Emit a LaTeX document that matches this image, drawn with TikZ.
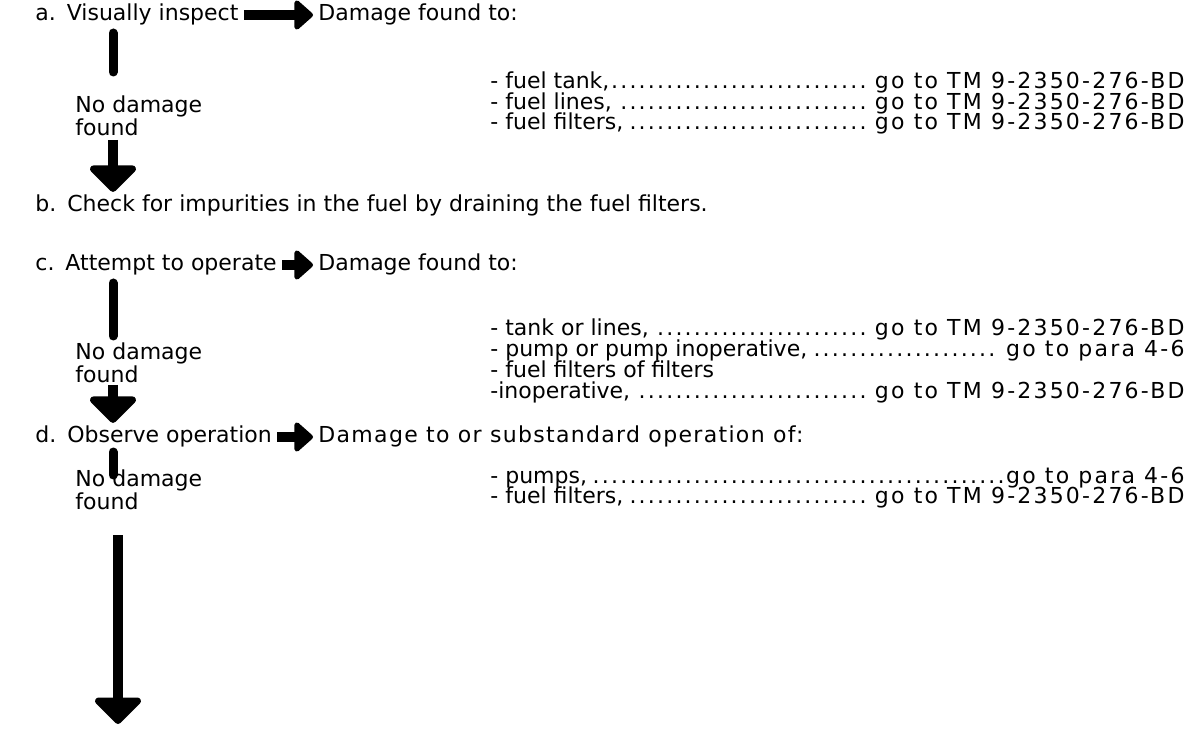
\documentclass[tikz,border=0pt]{standalone}
\usepackage{fontspec}
\setmainfont{DejaVu Sans}
\newfontfamily\goalfont{DejaVu Sans}[LetterSpace=10]
\newfontfamily\widefont{DejaVu Sans}[LetterSpace=6]
\usetikzlibrary{arrows.meta}
\newcommand{\dotlead}{\leaders\hbox to 4.6pt{\hss.\hss}\hfill}
\newcommand{\golist}[3]{\makebox[347pt][l]{#1\dotlead#2{\goalfont#3}}}
\begin{document}
\begin{tikzpicture}[x=0.5pt, y=-0.5pt, line join=round, font=\fontsize{11}{10}\selectfont,
    txt/.style={anchor=west, inner sep=0pt, text height=8.3pt, text depth=2.4pt},
    nodmg/.style={anchor=north west, inner sep=0pt, align=left},
    goarrow/.style={line width=5pt, shorten <=2.5pt, shorten >=2.5pt, -{Triangle[width=17pt,length=10pt,round]}},
    downarrow/.style={line width=5pt, shorten >=1.5pt, -{Triangle[width=27pt,length=14pt,round]}},
    stem/.style={line width=4.5pt, line cap=round}]
    \useasboundingbox (0,0) rectangle (1197,731);
    % step a
    \node[txt] (sa) at (35,15) {a.\hspace{0.5em}Visually inspect};
    \node[txt] (ha) at (318,15) {Damage found to:};
    \node[nodmg] (na) at (75,95) {No damage\\found};
    \foreach \y/\i/\item/\gap/\goal in {83/1/{- fuel tank,}/{\ }/{go to TM 9-2350-276-BD},
        104/2/{- fuel lines,}/{}/{go to TM 9-2350-276-BD},
        124/3/{- fuel filters,}/{\ }/{go to TM 9-2350-276-BD}}
        \node[txt] (la\i) at (490,\y) {\golist{\item}{\gap}{\goal}};
    % step b
    \node[txt] (sb) at (35,206) {b.\hspace{0.5em}Check for impurities in the fuel by draining the fuel filters.};
    % step c
    \node[txt] (sc) at (35,265) {c.\hspace{0.5em}Attempt to operate};
    \node[txt] (hc) at (318,265) {Damage found to:};
    \node[nodmg] (nc) at (75,342) {No damage\\found};
    \foreach \y/\i/\item/\gap/\goal in {330/1/{- tank or lines,}/{\ }/{go to TM 9-2350-276-BD},
        351/2/{- pump or pump inoperative,}/{\ }/{go to para 4-6},
        393/4/{-inoperative,}/{\ }/{go to TM 9-2350-276-BD}}
        \node[txt] (lc\i) at (490,\y) {\golist{\item}{\gap}{\goal}};
    \node[txt] (lc3) at (490,372) {- fuel filters of filters};
    % step d
    \node[txt] (sd) at (35,437) {d.\hspace{0.5em}Observe operation};
    \node[txt] (hd) at (318,437) {\widefont Damage to or substandard operation of:};
    \node[nodmg] (nd) at (75,469) {No damage\\found};
    \foreach \y/\i/\item/\gap/\goal in {478/1/{- pumps,}/{}/{go to para 4-6},
        498/2/{- fuel filters,}/{\ }/{go to TM 9-2350-276-BD}}
        \node[txt] (ld\i) at (490,\y) {\golist{\item}{\gap}{\goal}};
    % connectors
    \coordinate (ta) at (113,33);  \coordinate (ua) at (113,72);  \coordinate (pa) at (113,140);
    \coordinate (tc) at (113,283); \coordinate (uc) at (113,336); \coordinate (pc) at (113,385);
    \coordinate (td) at (113,452); \coordinate (ud) at (113,475);
    \coordinate (pd) at (118,535); \coordinate (ed) at (118,727);
    \draw[goarrow] (sa) -- (ha);
    \draw[goarrow] (sc) -- (hc);
    \draw[goarrow] (sd) -- (hd);
    \draw[stem] (ta) -- (ua);
    \draw[stem] (tc) -- (uc);
    \draw[stem] (td) -- (ud);
    \draw[downarrow] (pa) -- (sb.north -| pa);
    \draw[downarrow] (pc) -- (sd.north -| pc);
    \draw[downarrow] (pd) -- (ed);
\end{tikzpicture}
\end{document}
